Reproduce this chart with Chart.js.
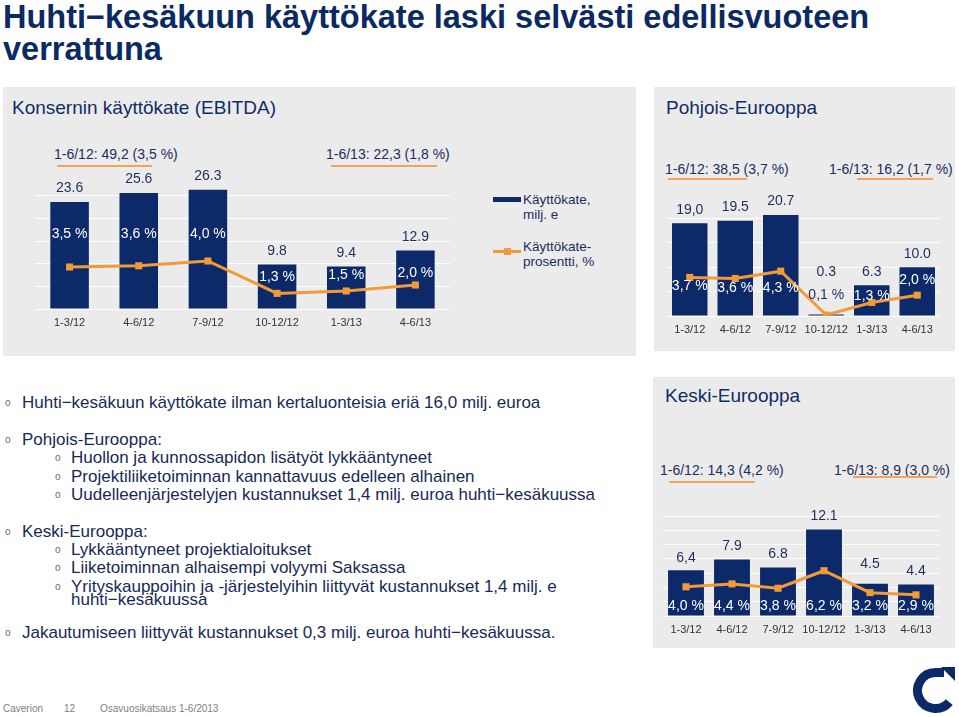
<!DOCTYPE html>
<html>
<head>
<meta charset="utf-8">
<script src="https://cdn.jsdelivr.net/npm/chart.js@4.4.1/dist/chart.umd.min.js"></script>
<style>
  body { margin: 0; width: 959px; height: 717px; position: relative; overflow: hidden; background: #fff;
         font-family: "Liberation Sans", Arial, sans-serif; }
  .abs { position: absolute; white-space: nowrap; }
  .title { left: 3px; font-weight: bold; font-size: 32.5px; line-height: 32px; color: #0c2a62; }
  .panel { position: absolute; background: #ebebeb; }
  .ptitle { font-size: 19px; line-height: 22px; color: #0f2d69; }
  .note { font-size: 14px; line-height: 16px; color: #1c2e5e; }
  .uline { position: absolute; height: 1.5px; background: #f3a45a; }
  .leg { font-size: 13.5px; line-height: 16px; color: #1c2e5e; }
  .txt { font-size: 17px; line-height: 20px; color: #17295a; }
  .dot { font-size: 10px; line-height: 20px; color: #5a6b8c; }
  .foot { font-size: 10px; line-height: 12px; color: #808080; }
  canvas { position: absolute; }
</style>
</head>
<body>

<div class="abs title" style="top:1px">Huhti−kesäkuun käyttökate laski selvästi edellisvuoteen</div>
<div class="abs title" style="top:33px">verrattuna</div>

<!-- panels -->
<div class="panel" style="left:3px;top:87px;width:633px;height:269px"></div>
<div class="panel" style="left:654px;top:87px;width:301px;height:264px"></div>
<div class="panel" style="left:653px;top:377px;width:302px;height:271px"></div>

<div class="abs ptitle" style="left:12px;top:97px">Konsernin käyttökate (EBITDA)</div>
<div class="abs ptitle" style="left:666px;top:97px">Pohjois-Eurooppa</div>
<div class="abs ptitle" style="left:665px;top:385px">Keski-Eurooppa</div>

<!-- period summaries -->
<div class="abs note" style="left:54px;top:146px">1-6/12: 49,2 (3,5 %)</div>
<div class="uline" style="left:57px;top:165px;width:95px"></div>
<div class="abs note" style="left:326px;top:146px">1-6/13: 22,3 (1,8 %)</div>
<div class="uline" style="left:331px;top:165px;width:106px"></div>

<div class="abs note" style="left:665px;top:161px">1-6/12: 38,5 (3,7 %)</div>
<div class="uline" style="left:668px;top:178px;width:79px"></div>
<div class="abs note" style="left:829px;top:161px">1-6/13: 16,2 (1,7 %)</div>
<div class="uline" style="left:857px;top:178px;width:76px"></div>

<div class="abs note" style="left:660px;top:462px">1-6/12: 14,3 (4,2 %)</div>
<div class="uline" style="left:669px;top:481px;width:86px"></div>
<div class="abs note" style="left:834px;top:462px">1-6/13: 8,9 (3,0 %)</div>
<div class="uline" style="left:853px;top:476px;width:84px"></div>

<!-- legend of the group chart -->
<div class="abs" style="left:493px;top:197px;width:28px;height:5px;background:#0c2a6a"></div>
<div class="abs leg" style="left:523px;top:192px">Käyttökate,</div>
<div class="abs leg" style="left:523px;top:207px">milj. e</div>
<div class="abs" style="left:493px;top:250px;width:28px;height:3px;background:#f39a38"></div>
<div class="abs" style="left:504px;top:248px;width:7px;height:7px;background:#f39a38"></div>
<div class="abs leg" style="left:523px;top:239px">Käyttökate-</div>
<div class="abs leg" style="left:523px;top:254px">prosentti, %</div>

<canvas id="groupChart"></canvas>
<canvas id="northChart"></canvas>
<canvas id="centralChart"></canvas>

<!-- bullet text -->
<div class="abs dot" style="left:5px;top:393px">o</div>
<div class="abs txt" style="left:22px;top:393px">Huhti−kesäkuun käyttökate ilman kertaluonteisia eriä 16,0 milj. euroa</div>
<div class="abs dot" style="left:5px;top:430px">o</div>
<div class="abs txt" style="left:22px;top:430px">Pohjois-Eurooppa:</div>
<div class="abs dot" style="left:55px;top:448px">o</div>
<div class="abs txt" style="left:71px;top:448px">Huollon ja kunnossapidon lisätyöt lykkääntyneet</div>
<div class="abs dot" style="left:55px;top:467px">o</div>
<div class="abs txt" style="left:71px;top:467px">Projektiliiketoiminnan kannattavuus edelleen alhainen</div>
<div class="abs dot" style="left:55px;top:485px">o</div>
<div class="abs txt" style="left:71px;top:485px">Uudelleenjärjestelyjen kustannukset 1,4 milj. euroa huhti−kesäkuussa</div>
<div class="abs dot" style="left:5px;top:522px">o</div>
<div class="abs txt" style="left:22px;top:522px">Keski-Eurooppa:</div>
<div class="abs dot" style="left:55px;top:540px">o</div>
<div class="abs txt" style="left:71px;top:540px">Lykkääntyneet projektialoitukset</div>
<div class="abs dot" style="left:55px;top:558px">o</div>
<div class="abs txt" style="left:71px;top:558px">Liiketoiminnan alhaisempi volyymi Saksassa</div>
<div class="abs dot" style="left:55px;top:577px">o</div>
<div class="abs txt" style="left:71px;top:577px">Yrityskauppoihin ja -järjestelyihin liittyvät kustannukset 1,4 milj. e</div>
<div class="abs txt" style="left:71px;top:590px">huhti−kesäkuussa</div>
<div class="abs dot" style="left:5px;top:623px">o</div>
<div class="abs txt" style="left:22px;top:623px">Jakautumiseen liittyvät kustannukset  0,3 milj. euroa huhti−kesäkuussa.</div>

<!-- footer -->
<div class="abs foot" style="left:3px;top:703px">Caverion</div>
<div class="abs foot" style="left:64px;top:703px">12</div>
<div class="abs foot" style="left:100px;top:703px">Osavuosikatsaus 1-6/2013</div>
<svg class="abs" style="left:905px;top:660px" width="54" height="57" viewBox="905 660 54 57">
  <path d="M 935.5 672.5 A 18 18 0 1 0 949.3 702.1" fill="none" stroke="#0c2a6a" stroke-width="9"/>
  <rect x="935" y="668" width="9" height="9" fill="#0c2a6a"/>
  <polygon points="941,667 955,667 955,681" fill="#0c2a6a"/>
</svg>

<script>
const quarters = ['1-3/12', '4-6/12', '7-9/12', '10-12/12', '1-3/13', '4-6/13'];

// Konserni
const groupEbitda = [23.6, 25.6, 26.3, 9.8, 9.4, 12.9];
const groupMargin = [3.5, 3.6, 4.0, 1.3, 1.5, 2.0];

// Pohjois-Eurooppa
const northEbitda = [19.0, 19.5, 20.7, 0.3, 6.3, 10.0];
const northMargin = [3.7, 3.6, 4.3, 0.1, 1.3, 2.0];

// Keski-Eurooppa
const centralEbitda = [6.4, 7.9, 6.8, 12.1, 4.5, 4.4];
const centralMargin = [4.0, 4.4, 3.8, 6.2, 3.2, 2.9];

const NAVY = '#0c2a6a';
const ORANGE = '#f39a38';
const TEXT = '#1c2e5e';
const FONT = '"Liberation Sans", Arial, sans-serif';

Chart.defaults.font.family = FONT;

// value labels above bars, percentage labels near the line
const valueLabels = {
  id: 'valueLabels',
  afterDatasetsDraw(chart, args, o) {
    const ctx = chart.ctx;
    const lineMeta = chart.getDatasetMeta(0);
    const barMeta = chart.getDatasetMeta(1);
    const base = chart.scales.y1.getPixelForValue(0);
    ctx.save();
    ctx.font = '14px ' + FONT;
    ctx.textAlign = 'center';
    ctx.textBaseline = 'middle';
    barMeta.data.forEach((bar, i) => {
      let s = chart.data.datasets[1].data[i].toFixed(1);
      if (o.commaAt.includes(i)) s = s.replace('.', ',');
      const lift = o.lift[i] !== undefined ? o.lift[i] : 13.5;
      ctx.fillStyle = TEXT;
      ctx.fillText(s, bar.x, bar.y - lift);
    });
    lineMeta.data.forEach((pt, i) => {
      const s = chart.data.datasets[0].data[i].toFixed(1).replace('.', ',') + ' %';
      const y = o.pctShift ? pt.y + o.pctShift[i] : base - o.pctBase;
      ctx.fillStyle = o.pctDark.includes(i) ? TEXT : '#fff';
      ctx.fillText(s, pt.x, y);
    });
    ctx.restore();
  }
};

function makeChart(id, ebitda, margin, cfg) {
  const pad = { l: 15, t: 25, r: 15, b: 30 };
  const el = document.getElementById(id);
  el.width = cfg.plot.right - cfg.plot.left + pad.l + pad.r;
  el.height = cfg.plot.bottom - cfg.plot.top + pad.t + pad.b;
  el.style.left = (cfg.plot.left - pad.l) + 'px';
  el.style.top = (cfg.plot.top - pad.t) + 'px';

  return new Chart(el, {
    type: 'bar',
    data: {
      labels: quarters,
      datasets: [
        {
          type: 'line',
          data: margin,
          yAxisID: 'y1',
          borderColor: ORANGE,
          backgroundColor: ORANGE,
          borderWidth: 3,
          pointStyle: 'rect',
          pointRadius: 5,
          pointBorderWidth: 0,
          order: 0
        },
        {
          type: 'bar',
          data: ebitda,
          yAxisID: 'y',
          backgroundColor: NAVY,
          barPercentage: cfg.barPct,
          categoryPercentage: 1,
          order: 1
        }
      ]
    },
    options: {
      responsive: false,
      animation: false,
      devicePixelRatio: 1,
      layout: { padding: { left: pad.l, top: pad.t, right: pad.r, bottom: 0 } },
      plugins: {
        legend: { display: false },
        tooltip: { enabled: false },
        valueLabels: cfg.labels
      },
      scales: {
        x: {
          grid: { display: false, drawTicks: false },
          border: { display: false },
          ticks: { color: '#333', font: { size: 11 }, padding: 7, maxRotation: 0, autoSkip: false },
          afterFit: s => { s.height = pad.b; }
        },
        y: {
          min: 0,
          max: cfg.yMax,
          ticks: { display: false, stepSize: cfg.step },
          grid: {
            color: c => c.tick.value <= cfg.gridMax ? '#ffffff' : 'rgba(0,0,0,0)',
            drawTicks: false,
            lineWidth: 1
          },
          border: { display: false },
          afterFit: s => { s.width = 0; }
        },
        y1: { display: false, min: 0, max: cfg.y1Max }
      }
    },
    plugins: [valueLabels]
  });
}

makeChart('groupChart', groupEbitda, groupMargin, {
  plot: { left: 35, right: 450, top: 173, bottom: 309 },
  yMax: 30, gridMax: 25, step: 5, y1Max: 11.33, barPct: 0.557,
  labels: { commaAt: [], lift: {}, pctShift: [-33, -32, -27, -16, -16, -12], pctDark: [] }
});

makeChart('northChart', northEbitda, northMargin, {
  plot: { left: 667, right: 940, top: 194, bottom: 316 },
  yMax: 25, gridMax: 20, step: 5, y1Max: 11.7, barPct: 0.78,
  labels: { commaAt: [0], lift: { 3: 42 }, pctShift: [9, 10, 17, -20, -6, -15], pctDark: [3] }
});

makeChart('centralChart', centralEbitda, centralMargin, {
  plot: { left: 663, right: 939, top: 516, bottom: 616 },
  yMax: 14, gridMax: 14, step: 2, y1Max: 13.7, barPct: 0.78,
  labels: { commaAt: [0], lift: { 0: 12, 4: 20 }, pctShift: null, pctBase: 9.5, pctDark: [] }
});
</script>
</body>
</html>
